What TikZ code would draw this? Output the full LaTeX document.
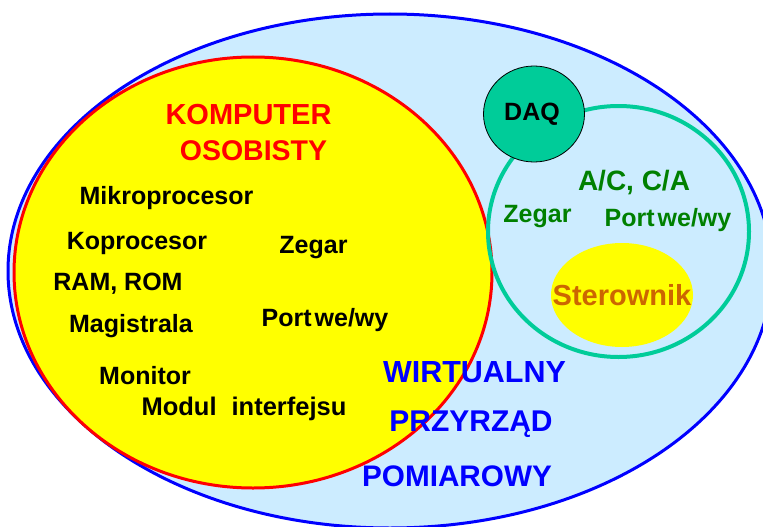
\documentclass[tikz,border=0pt]{standalone}
\usepackage{fontspec}
\setmainfont{Liberation Sans}
\usetikzlibrary{shapes.geometric}
\definecolor{skyfill}{RGB}{204,236,255}
\definecolor{daqteal}{RGB}{0,204,153}
\definecolor{darkgreen}{RGB}{0,128,0}
\definecolor{ctrlorange}{RGB}{204,102,0}
\definecolor{pureblue}{RGB}{0,0,255}
\definecolor{purered}{RGB}{255,0,0}
\definecolor{pureyellow}{RGB}{255,255,0}
\tikzset{
  lbl/.style={inner sep=0pt, font=\bfseries\fontsize{25}{30}\selectfont},
  biglbl/.style={inner sep=0pt, font=\bfseries\fontsize{30}{36}\selectfont},
}
\begin{document}
\begin{tikzpicture}[x=1pt,y=-1pt]
\useasboundingbox (0,0) rectangle (763,527);

% virtual instrument (outer set)
\draw[fill=skyfill, draw=pureblue, line width=3pt] (390,271) ellipse [x radius=382, y radius=257];
% personal computer
\draw[fill=pureyellow, draw=purered, line width=3pt] (253,272.5) ellipse [x radius=239, y radius=215.5];
% DAQ board
\draw[draw=daqteal, line width=4pt] (618.5,231.5) ellipse [x radius=130.5, y radius=125.5];
\node[ellipse, draw=black, line width=0.8pt, fill=daqteal, minimum width=101pt, minimum height=96pt, inner sep=0pt] (daq) at (534,114) {};
\node[ellipse, fill=pureyellow, minimum width=142pt, minimum height=104pt, inner sep=0pt] (ctrl) at (622,295) {};

% computer labels
\node[biglbl, text=purered, font=\bfseries\fontsize{29}{34}\selectfont] (komp) at (248.5,115) {KOMPUTER};
\node[biglbl, text=purered, font=\bfseries\fontsize{28.5}{34}\selectfont] (osob) at (253.5,151) {OSOBISTY};
\node[lbl] (mikro) at (166.5,198.5) {Mikroprocesor};
\node[lbl] (kopro) at (137,243.5) {Koprocesor};
\node[lbl] (ram) at (118,283.5) {RAM, ROM};
\node[lbl] (magi) at (131,326) {Magistrala};
\node[lbl] (moni) at (145,375.5) {Monitor};
\node[lbl, font=\bfseries\fontsize{25.5}{30}\selectfont] (modul) at (244,409) {Modul\hspace{15pt}interfejsu};
\node[lbl] (zegar1) at (313.5,248) {Zegar};
\node[lbl] (port1) at (325,320) {Port\hspace{3pt}we/wy};

% instrument labels
\node[biglbl, text=pureblue, font=\bfseries\fontsize{30.5}{36}\selectfont] (wirt) at (474.5,372) {WIRTUALNY};
\node[biglbl, text=pureblue] (przy) at (471,424) {PRZYRZĄD};
\node[biglbl, text=pureblue, font=\bfseries\fontsize{29.7}{36}\selectfont] (pomi) at (457,476) {POMIAROWY};

% DAQ labels
\node[lbl] (daqt) at (daq.center) [xshift=-2pt, yshift=-0.5pt] {DAQ};
\node[lbl, text=darkgreen, font=\bfseries\fontsize{28}{34}\selectfont] (acca) at (634,183) {A/C, C/A};
\node[lbl, text=darkgreen] (zegar2) at (537.5,217) {Zegar};
\node[lbl, text=darkgreen] (port2) at (668,220) {Port\hspace{3pt}we/wy};
\node[lbl, text=ctrlorange, font=\bfseries\fontsize{29}{34}\selectfont] (stero) at (ctrl.center) {Sterownik};
\end{tikzpicture}
\end{document}
